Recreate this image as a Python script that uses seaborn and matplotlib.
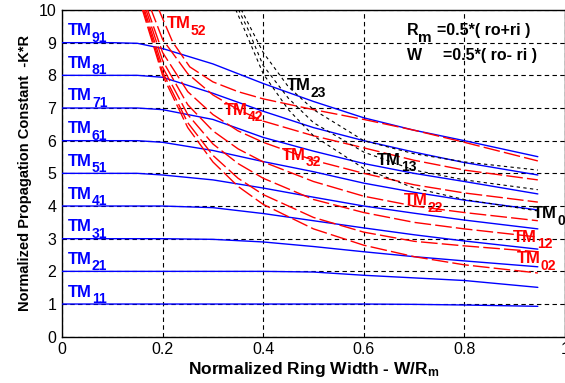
import numpy as np
import pandas as pd
import matplotlib
matplotlib.use('Agg')
import matplotlib.pyplot as plt
import seaborn as sns

# ring width W/Rm (x) and normalized propagation constant K*R (y)
# TM_n1 family (blue, solid) on a common width grid
w_n1 = [0, 0.1, 0.15, 0.2, 0.3, 0.4, 0.5, 0.6, 0.7, 0.8, 0.946]
tm91 = [9.0, 9.0, 8.98, 8.82, 8.35, 7.75, 7.2, 6.7, 6.32, 6.0, 5.51]
tm81 = [8.0, 8.0, 8.0, 7.94, 7.45, 6.9, 6.4, 6.0, 5.65, 5.33, 4.95]
tm71 = [7.0, 7.0, 7.0, 6.95, 6.65, 6.1, 5.68, 5.3, 5.0, 4.75, 4.37]
tm61 = [6.0, 6.0, 6.0, 5.95, 5.7, 5.36, 5.05, 4.7, 4.42, 4.18, 3.88]
tm51 = [5.0, 5.0, 5.0, 4.95, 4.8, 4.55, 4.27, 4.0, 3.78, 3.57, 3.30]
tm41 = [4.0, 4.0, 4.0, 4.0, 3.95, 3.77, 3.55, 3.33, 3.12, 2.93, 2.68]
tm31 = [3.0, 3.0, 3.0, 3.0, 2.98, 2.9, 2.76, 2.6, 2.45, 2.32, 2.14]
tm21 = [2.0, 2.0, 2.0, 2.0, 2.0, 2.0, 1.98, 1.88, 1.8, 1.72, 1.51]
tm11 = [1.0, 1.0, 1.0, 1.0, 1.0, 1.0, 1.0, 1.0, 0.99, 0.97, 0.93]
blue_curves = [tm11, tm21, tm31, tm41, tm51, tm61, tm71, tm81, tm91]

# TM_n2 family (red, dashed)
w_r0 = [0.158, 0.2, 0.25, 0.3, 0.35, 0.4, 0.5, 0.6, 0.7, 0.8, 0.946]
k_r0 = [10.1, 8.0, 6.4, 5.35, 4.6, 4.05, 3.3, 2.8, 2.45, 2.2, 1.95]
w_r1 = [0.16, 0.2, 0.25, 0.3, 0.35, 0.4, 0.5, 0.6, 0.7, 0.8, 0.946]
k_r1 = [10.1, 8.1, 6.55, 5.55, 4.85, 4.35, 3.65, 3.2, 2.92, 2.78, 2.6]
w_r2 = [0.162, 0.2, 0.25, 0.3, 0.35, 0.4, 0.5, 0.6, 0.7, 0.8, 0.946]
k_r2 = [10.1, 8.25, 6.8, 5.9, 5.3, 4.85, 4.2, 3.8, 3.5, 3.3, 3.05]
w_r3 = [0.165, 0.2, 0.25, 0.3, 0.35, 0.4, 0.5, 0.6, 0.7, 0.8, 0.946]
k_r3 = [10.1, 8.45, 7.1, 6.3, 5.75, 5.35, 4.75, 4.3, 4.0, 3.8, 3.55]
w_r4 = [0.168, 0.2, 0.25, 0.3, 0.35, 0.4, 0.5, 0.6, 0.7, 0.8, 0.946]
k_r4 = [10.1, 8.7, 7.5, 6.8, 6.3, 5.95, 5.4, 5.0, 4.65, 4.4, 4.12]
w_r5 = [0.175, 0.2, 0.25, 0.3, 0.35, 0.4, 0.5, 0.6, 0.7, 0.8, 0.946]
k_r5 = [10.1, 9.1, 8.05, 7.4, 6.95, 6.6, 6.15, 5.78, 5.4, 5.1, 4.8]
w_r6 = [0.19, 0.22, 0.254, 0.3, 0.35, 0.4, 0.5, 0.6, 0.7, 0.8, 0.946]
k_r6 = [10.1, 9.02, 8.26, 7.8, 7.5, 7.28, 6.95, 6.65, 6.32, 5.95, 5.38]
red_curves = [(w_r0, k_r0), (w_r1, k_r1), (w_r2, k_r2), (w_r3, k_r3),
              (w_r4, k_r4), (w_r5, k_r5), (w_r6, k_r6)]

# TM_n3 family (black, fine dashes)
w_b0 = [0.34, 0.36, 0.4, 0.45, 0.5, 0.6, 0.7, 0.8, 0.946]
k_b0 = [10.2, 9.5, 8.05, 6.95, 6.15, 5.15, 4.55, 4.2, 3.85]
w_b1 = [0.345, 0.37, 0.4, 0.45, 0.5, 0.6, 0.7, 0.8, 0.946]
k_b1 = [10.2, 9.4, 8.3, 7.3, 6.55, 5.65, 5.1, 4.8, 4.5]
w_b2 = [0.35, 0.38, 0.4, 0.45, 0.5, 0.6, 0.7, 0.8, 0.946]
k_b2 = [10.2, 9.3, 8.7, 7.65, 6.95, 6.0, 5.6, 5.35, 5.1]
black_curves = [(w_b0, k_b0), (w_b1, k_b1), (w_b2, k_b2)]

# mode labels: subscript, x, y (baseline), colour
blue_subs = ['11', '21', '31', '41', '51', '61', '71', '81', '91']
other_labels = [('52', 0.209, 9.44, 'red'),
                ('42', 0.321, 6.79, 'red'),
                ('32', 0.437, 5.41, 'red'),
                ('22', 0.679, 4.03, 'red'),
                ('12', 0.897, 2.91, 'red'),
                ('02', 0.904, 2.25, 'red'),
                ('23', 0.447, 7.55, 'black'),
                ('13', 0.626, 5.26, 'black'),
                ('03', 0.937, 3.62, 'black')]

sns.set_theme(style='white')
plt.rcParams['font.family'] = ['Liberation Sans', 'DejaVu Sans']
plt.rcParams['mathtext.fontset'] = 'custom'
plt.rcParams['mathtext.rm'] = 'Liberation Sans:bold'
plt.rcParams['mathtext.bf'] = 'Liberation Sans:bold'
plt.rcParams['mathtext.default'] = 'bf'

fig = plt.figure(figsize=(5.65, 3.83), dpi=100)
ax = fig.add_axes([62/565, (383-336.7)/383, 503/565, 326.7/383])

for k in blue_curves:
    sns.lineplot(x=w_n1, y=k, ax=ax, color='#0000ff', lw=1.0, sort=False, zorder=3)
for w, k in red_curves:
    sns.lineplot(x=w, y=k, ax=ax, color='#ff0000', lw=1.0, sort=False,
                 linestyle=(0, (12, 3)), zorder=3)
for w, k in black_curves:
    sns.lineplot(x=w, y=k, ax=ax, color='black', lw=0.8, sort=False,
                 linestyle=(0, (3, 3)), zorder=3)


def sub_label(x, y, main, sub, color, size=12, subsize=10, weight='bold', drop=-2.5):
    t = ax.text(x, y, main, color=color, fontsize=size, fontweight=weight,
                va='baseline', ha='left', zorder=5)
    ax.annotate(sub, xy=(1, 0), xycoords=t, xytext=(0, drop), textcoords='offset points',
                color=color, fontsize=subsize, fontweight=weight, va='baseline', ha='left',
                zorder=5)


for i, s in enumerate(blue_subs):
    sub_label(0.012, i + 1 + 0.23, 'TM', s, '#0000ff')
for s, x, y, c in other_labels:
    sub_label(x, y, 'TM', s, c)

sub_label(0.685, 9.23, 'R', 'm', 'black', size=11.5, subsize=11, drop=-2.5)
ax.text(0.746, 9.23, '=0.5*( ro+ri )', fontsize=11.5, fontweight='bold',
        color='black', va='baseline')
ax.text(0.685, 8.47, 'W', fontsize=11.5, fontweight='bold', color='black', va='baseline')
ax.text(0.758, 8.47, '=0.5*( ro- ri )', fontsize=11.5, fontweight='bold',
        color='black', va='baseline')

ax.set_xlim(0, 1)
ax.set_ylim(0, 10)
ax.set_xticks([0, 0.2, 0.4, 0.6, 0.8, 1])
ax.set_xticklabels(['0', '0.2', '0.4', '0.6', '0.8', '1'])
ax.set_yticks(range(11))
ax.tick_params(direction='in', length=4, labelsize=11.5, colors='black', pad=4)
ax.grid(True, color='black', linestyle=(0, (4, 3)), lw=0.8)
ax.set_axisbelow(True)
for s in ax.spines.values():
    s.set_color('black')
    s.set_linewidth(1.0)
ax.set_xlabel('Normalized Ring Width - W/R$_{m}$', fontsize=12.5, fontweight='bold',
              color='black', labelpad=2)
ax.set_ylabel('Normalized Propagation Constant  -K*R', fontsize=10.5,
              fontweight='bold', color='black', labelpad=5)

fig.savefig('out.png', dpi=100)
